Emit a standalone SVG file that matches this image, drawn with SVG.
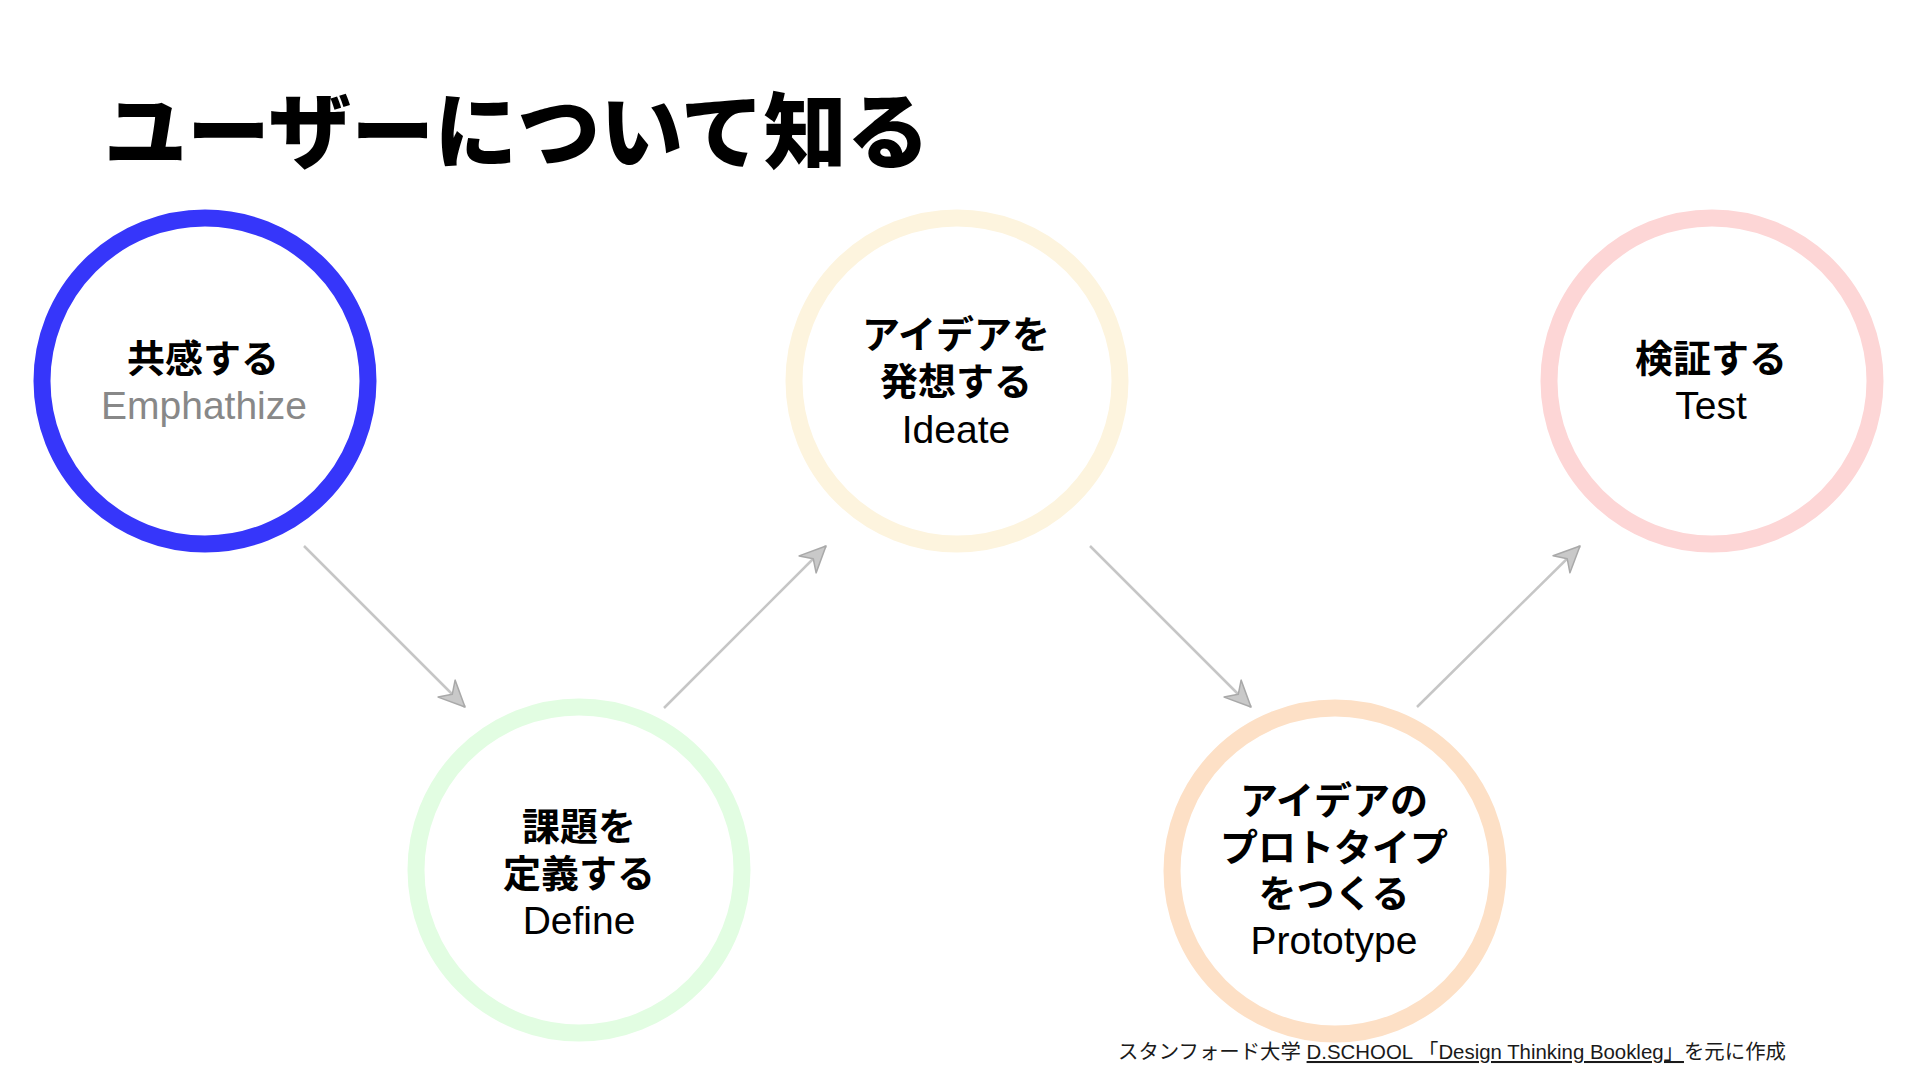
<svg xmlns="http://www.w3.org/2000/svg" width="1920" height="1080" viewBox="0 0 1920 1080">
  <style>
    .ring { fill: #ffffff; stroke-width: 17; }
    .jp { font-family: "Liberation Sans", "Noto Sans CJK JP", sans-serif; font-size: 38px; font-weight: 700; fill: #000; text-anchor: middle; }
    .en { font-family: "Liberation Sans", "Noto Sans CJK JP", sans-serif; font-size: 39px; font-weight: 400; fill: #000; text-anchor: middle; }
    .title { font-family: "Noto Sans CJK JP", sans-serif; font-size: 83px; font-weight: 900; fill: #000; }
    .foot { font-family: "Liberation Sans", "Noto Sans CJK JP", sans-serif; font-size: 20.4px; fill: #1a1a1a; }
    .conn { stroke: #c6c6c6; stroke-width: 2.5; fill: none; marker-end: url(#arrow); }
  </style>
  <defs>
    <marker id="arrow" viewBox="-2 -2 30 30" refX="26" refY="13" markerWidth="30" markerHeight="30" markerUnits="userSpaceOnUse" orient="auto">
      <path d="M26,13 L0,1 L8,13 L0,25 Z" fill="#c9c9c9" stroke="#a9a9a9" stroke-width="1.5" stroke-linejoin="round"/>
    </marker>
  </defs>
  <rect width="1920" height="1080" fill="#ffffff"/>

  <text class="title" x="104" y="162">ユーザーについて知る</text>

  <g id="connectors">
    <line class="conn" x1="304" y1="546" x2="465" y2="707"/>
    <line class="conn" x1="664" y1="708" x2="826" y2="546"/>
    <line class="conn" x1="1090" y1="546" x2="1251" y2="707"/>
    <line class="conn" x1="1417" y1="707" x2="1580" y2="546"/>
  </g>

  <g id="node-empathize">
    <circle class="ring" cx="205" cy="381" r="163" stroke="#3636fa"/>
    <text class="jp" x="203" y="372">共感する</text>
    <text class="en" x="204" y="419" style="fill:#888888">Emphathize</text>
  </g>

  <g id="node-define">
    <circle class="ring" cx="579" cy="870" r="163" stroke="#e2fde2"/>
    <text class="jp" x="579" y="840">課題を</text>
    <text class="jp" x="579" y="887">定義する</text>
    <text class="en" x="579" y="934">Define</text>
  </g>

  <g id="node-ideate">
    <circle class="ring" cx="957" cy="381" r="163" stroke="#fdf4de"/>
    <text class="jp" x="956" y="348">アイデアを</text>
    <text class="jp" x="956" y="395">発想する</text>
    <text class="en" x="956" y="443">Ideate</text>
  </g>

  <g id="node-prototype">
    <circle class="ring" cx="1335" cy="871" r="163" stroke="#fde0c6"/>
    <text class="jp" x="1334" y="814">アイデアの</text>
    <text class="jp" x="1334" y="861">プロトタイプ</text>
    <text class="jp" x="1334" y="907">をつくる</text>
    <text class="en" x="1334" y="954">Prototype</text>
  </g>

  <g id="node-test">
    <circle class="ring" cx="1712" cy="381" r="163" stroke="#fdd6d6"/>
    <text class="jp" x="1711" y="372">検証する</text>
    <text class="en" x="1711" y="419">Test</text>
  </g>

  <text class="foot" x="1118" y="1059">スタンフォード大学 <tspan text-decoration="underline">D.SCHOOL 「Design Thinking Bookleg」</tspan>を元に作成</text>
</svg>
